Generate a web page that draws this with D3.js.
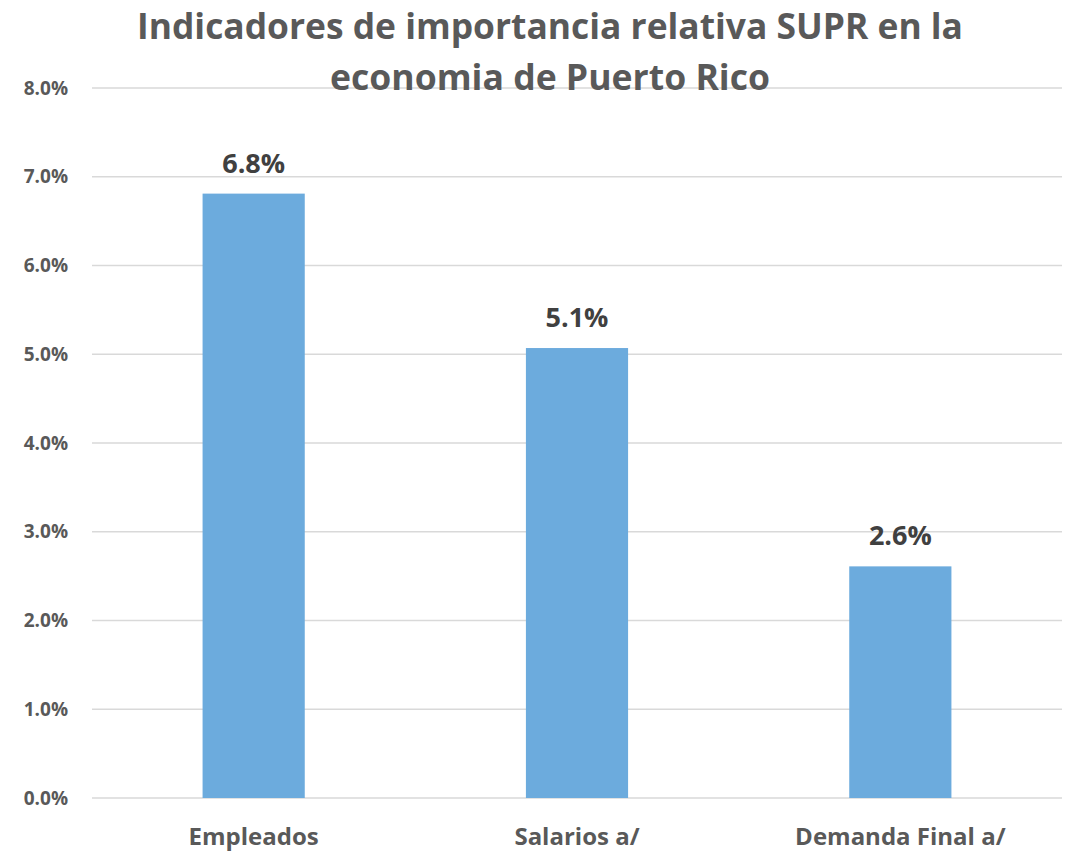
<!DOCTYPE html>
<html>
<head>
<meta charset="utf-8">
<script src="https://cdn.jsdelivr.net/npm/d3@7"></script>
<style>
  body { margin: 0; background: #fff; }
  svg, svg text { font-family: "Open Sans", sans-serif; }
</style>
</head>
<body>
<div id="chart"></div>
<script>
// data
const categories = ["Empleados", "Salarios a/", "Demanda Final a/"];
const values = [0.0681, 0.0507, 0.0261];
const labels = ["6.8%", "5.1%", "2.6%"];
const yTicks = [0, 0.01, 0.02, 0.03, 0.04, 0.05, 0.06, 0.07, 0.08];
const titleLines = ["Indicadores de importancia relativa SUPR en la", "economia de Puerto Rico"];

const width = 1068, height = 852;
const margin = { top: 88, right: 6, bottom: 54, left: 92 };

const svg = d3.select("#chart").append("svg")
  .attr("width", width)
  .attr("height", height);

const x = d3.scaleBand()
  .domain(categories)
  .range([margin.left, width - margin.right])
  .paddingInner(0.684)
  .paddingOuter(0.342);

const y = d3.scaleLinear()
  .domain([0, 0.08])
  .range([height - margin.bottom, margin.top]);

// gridlines
svg.append("g")
  .selectAll("line")
  .data(yTicks)
  .join("line")
  .attr("x1", margin.left)
  .attr("x2", width - margin.right)
  .attr("y1", d => y(d))
  .attr("y2", d => y(d))
  .attr("stroke", "#d9d9d9")
  .attr("stroke-width", 1.3);

// y axis
const yAxis = svg.append("g")
  .attr("transform", `translate(${margin.left - 24},0)`)
  .call(d3.axisLeft(y).tickValues(yTicks).tickFormat(d3.format(".1%")).tickSize(0).tickPadding(0));
yAxis.attr("font-family", null);
yAxis.select(".domain").remove();
yAxis.selectAll("text")
  .attr("fill", "#595959")
  .attr("font-size", 19)
  .attr("font-weight", "bold");

// bars
svg.append("g")
  .selectAll("rect")
  .data(values)
  .join("rect")
  .attr("x", (d, i) => x(categories[i]))
  .attr("width", x.bandwidth())
  .attr("y", d => y(d))
  .attr("height", d => y(0) - y(d))
  .attr("fill", "#6cabdd");

// data labels
svg.append("g")
  .selectAll("text")
  .data(values)
  .join("text")
  .attr("x", (d, i) => x(categories[i]) + x.bandwidth() / 2)
  .attr("y", d => y(d) - 21)
  .attr("text-anchor", "middle")
  .attr("fill", "#404040")
  .attr("font-size", 27)
  .attr("font-weight", "bold")
  .text((d, i) => labels[i]);

// x axis
const xAxis = svg.append("g")
  .attr("transform", `translate(0,${height - margin.bottom})`)
  .call(d3.axisBottom(x).tickSize(0));
xAxis.attr("font-family", null);
xAxis.select(".domain").remove();
xAxis.selectAll("text")
  .attr("y", 47)
  .attr("dy", null)
  .attr("fill", "#595959")
  .attr("font-size", 24)
  .attr("font-weight", "bold");

// title
svg.append("g")
  .selectAll("text")
  .data(titleLines)
  .join("text")
  .attr("x", 550)
  .attr("y", (d, i) => 39 + i * 51)
  .attr("text-anchor", "middle")
  .attr("fill", "#595959")
  .attr("font-size", 35)
  .attr("font-weight", "bold")
  .attr("textLength", (d, i) => i === 0 ? 826 : 440)
  .attr("lengthAdjust", "spacingAndGlyphs")
  .text(d => d);
</script>
</body>
</html>
